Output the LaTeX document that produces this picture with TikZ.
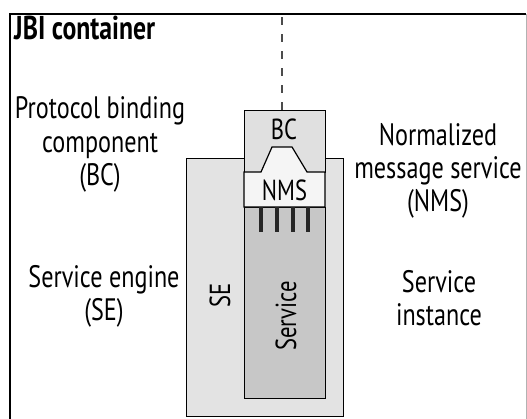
\documentclass[tikz,border=0pt]{standalone}
\usepackage{fontspec}
\setmainfont{PT Sans}[FakeStretch=0.78]
\begin{document}
\begin{tikzpicture}[x=1pt,y=-1pt,
  lbl/.style={font=\fontsize{31}{36}\selectfont, align=center, inner sep=0pt},
  inlbl/.style={font=\fontsize{29}{34}\selectfont, inner sep=0pt},
  boxfill/.style={draw=black, line width=1.2pt},
  bar/.style={line width=3.6pt, draw=black!85}]
\useasboundingbox (0,0) rectangle (527,418);
\fill[white] (0,0) rectangle (527,418);
\begin{scope}
\clip (0,0) rectangle (527,418);
% container frame
\draw[line width=1.6pt] (10,430) -- (10,14) -- (526,14);
\draw[black!30, line width=1pt] (526,14) -- (526,430);
% service engine box
\node[boxfill, fill=black!11, minimum width=157pt, minimum height=258pt, inner sep=0pt, anchor=north west] (se) at (186,158) {};
\end{scope}
% column: BC, NMS, service
\node[boxfill, fill=black!12, minimum width=81pt, minimum height=62pt, inner sep=0pt, anchor=north west] (bc) at (244,110) {};
\node[boxfill, fill=black!22, minimum width=81pt, minimum height=191pt, inner sep=0pt, anchor=north west] (svc) at (244,207) {};
\filldraw[fill=black!4, line width=1.2pt] (244,172) -- (261,172) -- (272,147) -- (292,147) -- (307,172) -- (325,172) -- (325,207) -- (244,207) -- cycle;
\coordinate (nmsc) at (284.5,190);
% connector ports
\foreach \x in {261,277,293,308} \draw[bar] (\x,207) -- (\x,232);
% external link
\coordinate (ext) at (282,17);
\draw[black!70, line width=2.2pt, dash pattern=on 8pt off 9pt] (ext) -- (bc.north -| ext);
% labels inside the boxes
\node[inlbl] (bct) at (284,129) {BC};
\node[inlbl] (nmst) at (nmsc) {NMS};
\node[inlbl, rotate=90] (set) at (220,295) {SE};
\node[inlbl, rotate=90] (svct) at (286,316) {Service};
% descriptions
\node[lbl, font=\fontsize{33}{38}\bfseries, anchor=base west] (title) at (14,39) {JBI container};
\node[lbl, anchor=base] (bcd1) at (100,118) {Protocol binding};
\node[lbl, anchor=base] (bcd2) at (100,152) {component};
\node[lbl, anchor=base] (bcd3) at (100,185) {(BC)};
\node[lbl, anchor=base] (nmsd1) at (438,145) {Normalized};
\node[lbl, anchor=base] (nmsd2) at (438,178) {message service};
\node[lbl, anchor=base] (nmsd3) at (438,211) {(NMS)};
\node[lbl, anchor=base] (sed1) at (104,287) {Service engine};
\node[lbl, anchor=base] (sed2) at (104,320) {(SE)};
\node[lbl, anchor=base] (sid1) at (439,292) {Service};
\node[lbl, anchor=base] (sid2) at (439,325) {instance};
\end{tikzpicture}
\end{document}
